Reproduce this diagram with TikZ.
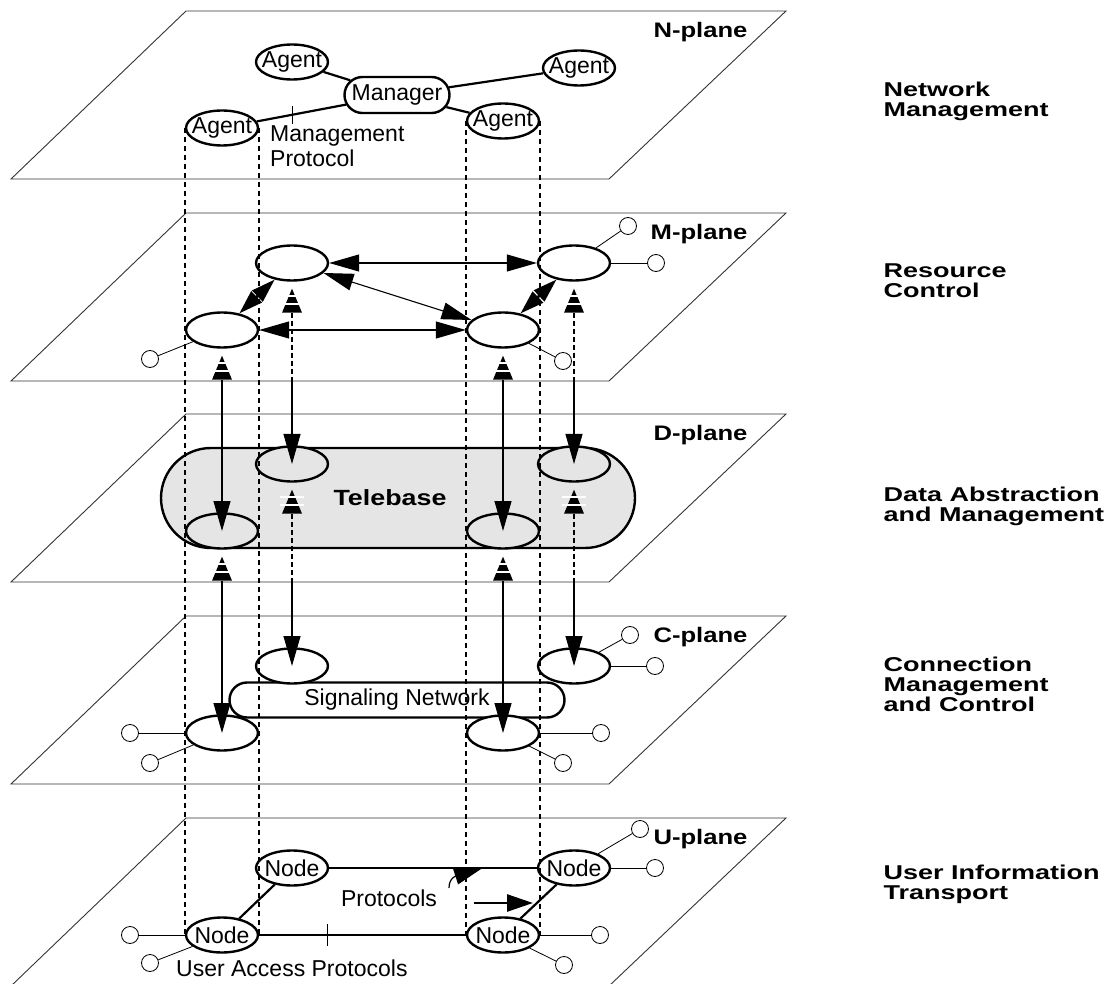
\documentclass[tikz,border=0pt]{standalone}
\usepackage{fontspec}
\setmainfont{Liberation Sans}
\newfontfamily\widefont{Liberation Sans}[FakeStretch=1.35]
\newfontfamily\planefont{Liberation Sans}[FakeStretch=1.22]
\usetikzlibrary{
	shapes.geometric,
	shapes.misc,
	positioning,
	arrows.meta
}

\tikzset{
	plane/.style={draw=black!80, line width=0.9pt},
	cell/.style={draw, ellipse, line width=2.4pt, minimum width=72pt, minimum height=35pt, inner sep=0pt, fill=white},
	dcell/.style={cell, fill=black!10},
	pill/.style={draw, rounded rectangle, line width=2.4pt, inner sep=0pt, fill=white},
	term/.style={draw, circle, minimum size=17pt, inner sep=0pt, line width=0.8pt, fill=white},
	wire/.style={line width=0.8pt},
	link/.style={line width=2.2pt},
	bigtip/.tip={Triangle[length=30pt,width=17pt]},
	both/.style={line width=1.1pt, bigtip-bigtip},
	down/.style={line width=1.1pt, -bigtip},
	pair/.style={line width=2.6pt, {Triangle[length=24pt,width=15pt]}-{Triangle[length=24pt,width=15pt]}},
	updash/.style={line width=1.1pt, dash pattern=on 5pt off 3pt},
	vdash/.style={line width=2pt, dash pattern=on 5pt off 4pt},
	planelab/.style={font=\planefont\fontsize{21}{24}\selectfont\bfseries, anchor=east},
	sidelab/.style={font=\widefont\fontsize{20}{20}\selectfont\bfseries, anchor=west, align=left},
	cone/.pic={
		\fill (0,0) -- (-10,24) -- (10,24) -- cycle;
		\draw[white, line width=2pt] (-12,7) -- (12,7) (-12,15.5) -- (12,15.5);
	}
}

\begin{document}
\begin{tikzpicture}[x=1pt, y=-1pt, font=\fontsize{23}{25}\selectfont]
	\useasboundingbox (0,0) rectangle (1104,984);
	\clip (0,0) rectangle (1104,984);

	% planes
	\foreach \t/\n in {11/N,213/M,414/D,616/C,818/U} {
		\draw[plane] (11,\t+168) -- (609,\t+168) -- (786,\t) -- (186,\t) -- cycle;
		\node[planelab] at (751,\t+21) {\n-plane};
	}
	\coordinate (medge) at (0,381);
	\coordinate (dedge) at (0,582);

	% N-plane
	\node[pill, minimum width=105pt, minimum height=36pt] (mgr) at (397,95) {Manager};
	\node[cell, label=center:Agent] (a1) at (292,62) {};
	\node[cell, label=center:Agent] (a2) at (579,68) {};
	\node[cell, label=center:Agent] (a3) at (222,128) {};
	\node[cell, label=center:Agent] (a4) at (503,121) {};
	\draw[link] (mgr) -- (a1);
	\draw[link] (mgr) -- (a2);
	\draw[link] (mgr) -- (a4);
	\draw[link] (mgr) -- (a3) node[pos=0.6, minimum height=16pt, inner sep=0pt] (tick1) {};
	\draw[wire] (tick1.north) -- (tick1.south);
	\node[anchor=north west, align=left, inner sep=0pt] (mp) at (270,125) {Management\\Protocol};

	% M-plane
	\node[cell] (m1) at (292,263) {};
	\node[cell] (m2) at (222,330) {};
	\node[cell] (m3) at (574,263) {};
	\node[cell] (m4) at (503,330) {};
	\draw[both] (m1) -- (m3);
	\draw[both] (m2) -- (m4);
	\draw[both] (m1) -- (m4);
	\draw[pair] (m2) -- (m1);
	\draw[pair] (m4) -- (m3);
	\node[term] (mt1) at (628,226) {};
	\node[term] (mt2) at (656,263) {};
	\node[term] (mt3) at (150,359) {};
	\node[term] (mt4) at (563,361) {};
	\draw[wire] (m3) -- (mt1);
	\draw[wire] (m3) -- (mt2);
	\draw[wire] (m2) -- (mt3);
	\draw[wire] (m4) -- (mt4);

	% D-plane
	\node[pill, fill=black!10, minimum width=474pt, minimum height=100pt,
		label={[xshift=-8pt, font=\planefont\fontsize{22}{24}\selectfont\bfseries]center:Telebase}] (tb) at (398,498) {};
	\node[dcell] (d1) at (292,464) {};
	\node[dcell] (d2) at (222,531) {};
	\node[dcell] (d3) at (574,464) {};
	\node[dcell] (d4) at (503,531) {};

	% C-plane
	\node[pill, minimum width=335pt, minimum height=35pt] (sig) at (397,700) {Signaling Network};
	\node[cell] (c1) at (292,666) {};
	\node[cell] (c2) at (222,733) {};
	\node[cell] (c3) at (574,666) {};
	\node[cell] (c4) at (503,733) {};
	\node[term] (ct1) at (630,635) {};
	\node[term] (ct2) at (655,666) {};
	\node[term] (ct3) at (130,733) {};
	\node[term] (ct4) at (150,763) {};
	\node[term] (ct5) at (601,733) {};
	\node[term] (ct6) at (563,763) {};
	\draw[wire] (c3) -- (ct1);
	\draw[wire] (c3) -- (ct2);
	\draw[wire] (c2) -- (ct3);
	\draw[wire] (c2) -- (ct4);
	\draw[wire] (c4) -- (ct5);
	\draw[wire] (c4) -- (ct6);

	% links between planes
	\foreach \a/\b/\e in {m1/d1/medge, m2/d2/medge, m3/d3/medge, m4/d4/medge,
			d1/c1/dedge, d2/c2/dedge, d3/c3/dedge, d4/c4/dedge} {
		\pic at ([yshift=-7pt]\a.south) {cone};
		\draw[updash] ([yshift=-31pt]\a.south) -- (\a |- \e);
		\draw[down] (\a |- \e) -- (\b.center);
	}

	% U-plane
	\node[cell, label=center:Node] (u1) at (292,868) {};
	\node[cell, label=center:Node] (u2) at (222,935) {};
	\node[cell, label=center:Node] (u3) at (574,868) {};
	\node[cell, label=center:Node] (u4) at (503,935) {};
	\draw[link] (u1) -- (u3);
	\draw[link] (u2) -- (u4) node[pos=0.33, minimum height=20pt, inner sep=0pt] (tick2) {};
	\draw[wire] (tick2.north) -- (tick2.south);
	\draw[link] (u2) -- (u1);
	\draw[link] (u4) -- (u3);
	\node[term] (ut1) at (640,829) {};
	\node[term] (ut2) at (655,868) {};
	\node[term] (ut3) at (130,935) {};
	\node[term] (ut4) at (150,963) {};
	\node[term] (ut5) at (600,935) {};
	\node[term] (ut6) at (564,965) {};
	\draw[wire] (u3) -- (ut1);
	\draw[wire] (u3) -- (ut2);
	\draw[wire] (u2) -- (ut3);
	\draw[wire] (u2) -- (ut4);
	\draw[wire] (u4) -- (ut5);
	\draw[wire] (u4) -- (ut6);
	\node (prot) at (389,898) {Protocols};
	\coordinate (p1) at (484,867);
	\coordinate (p2) at (533,903);
	\draw[line width=1.2pt, -bigtip] (449,888) .. controls (449,878) and (456,876) .. (p1);
	\draw[line width=2.6pt, -{Triangle[length=26pt,width=17pt]}] (474,903) -- (p2);
	\node[anchor=west, inner sep=0pt] (uap) at (176,968) {User Access Protocols};

	% dashed verticals
	\draw[vdash] (a3.west) -- (u2.west);
	\draw[vdash] (a3.east) -- (u2.east);
	\draw[vdash] (a4.west) -- (u4.west);
	\draw[vdash] (a4.east) -- (u4.east);

	% side labels
	\node[sidelab] (s1) at (880,101) {Network\\Management};
	\node[sidelab] (s2) at (880,281) {Resource\\Control};
	\node[sidelab] (s3) at (880,506) {Data Abstraction\\and Management};
	\node[sidelab] (s4) at (880,684) {Connection\\Management\\and Control};
	\node[sidelab] (s5) at (880,884) {User Information\\Transport};
\end{tikzpicture}
\end{document}
